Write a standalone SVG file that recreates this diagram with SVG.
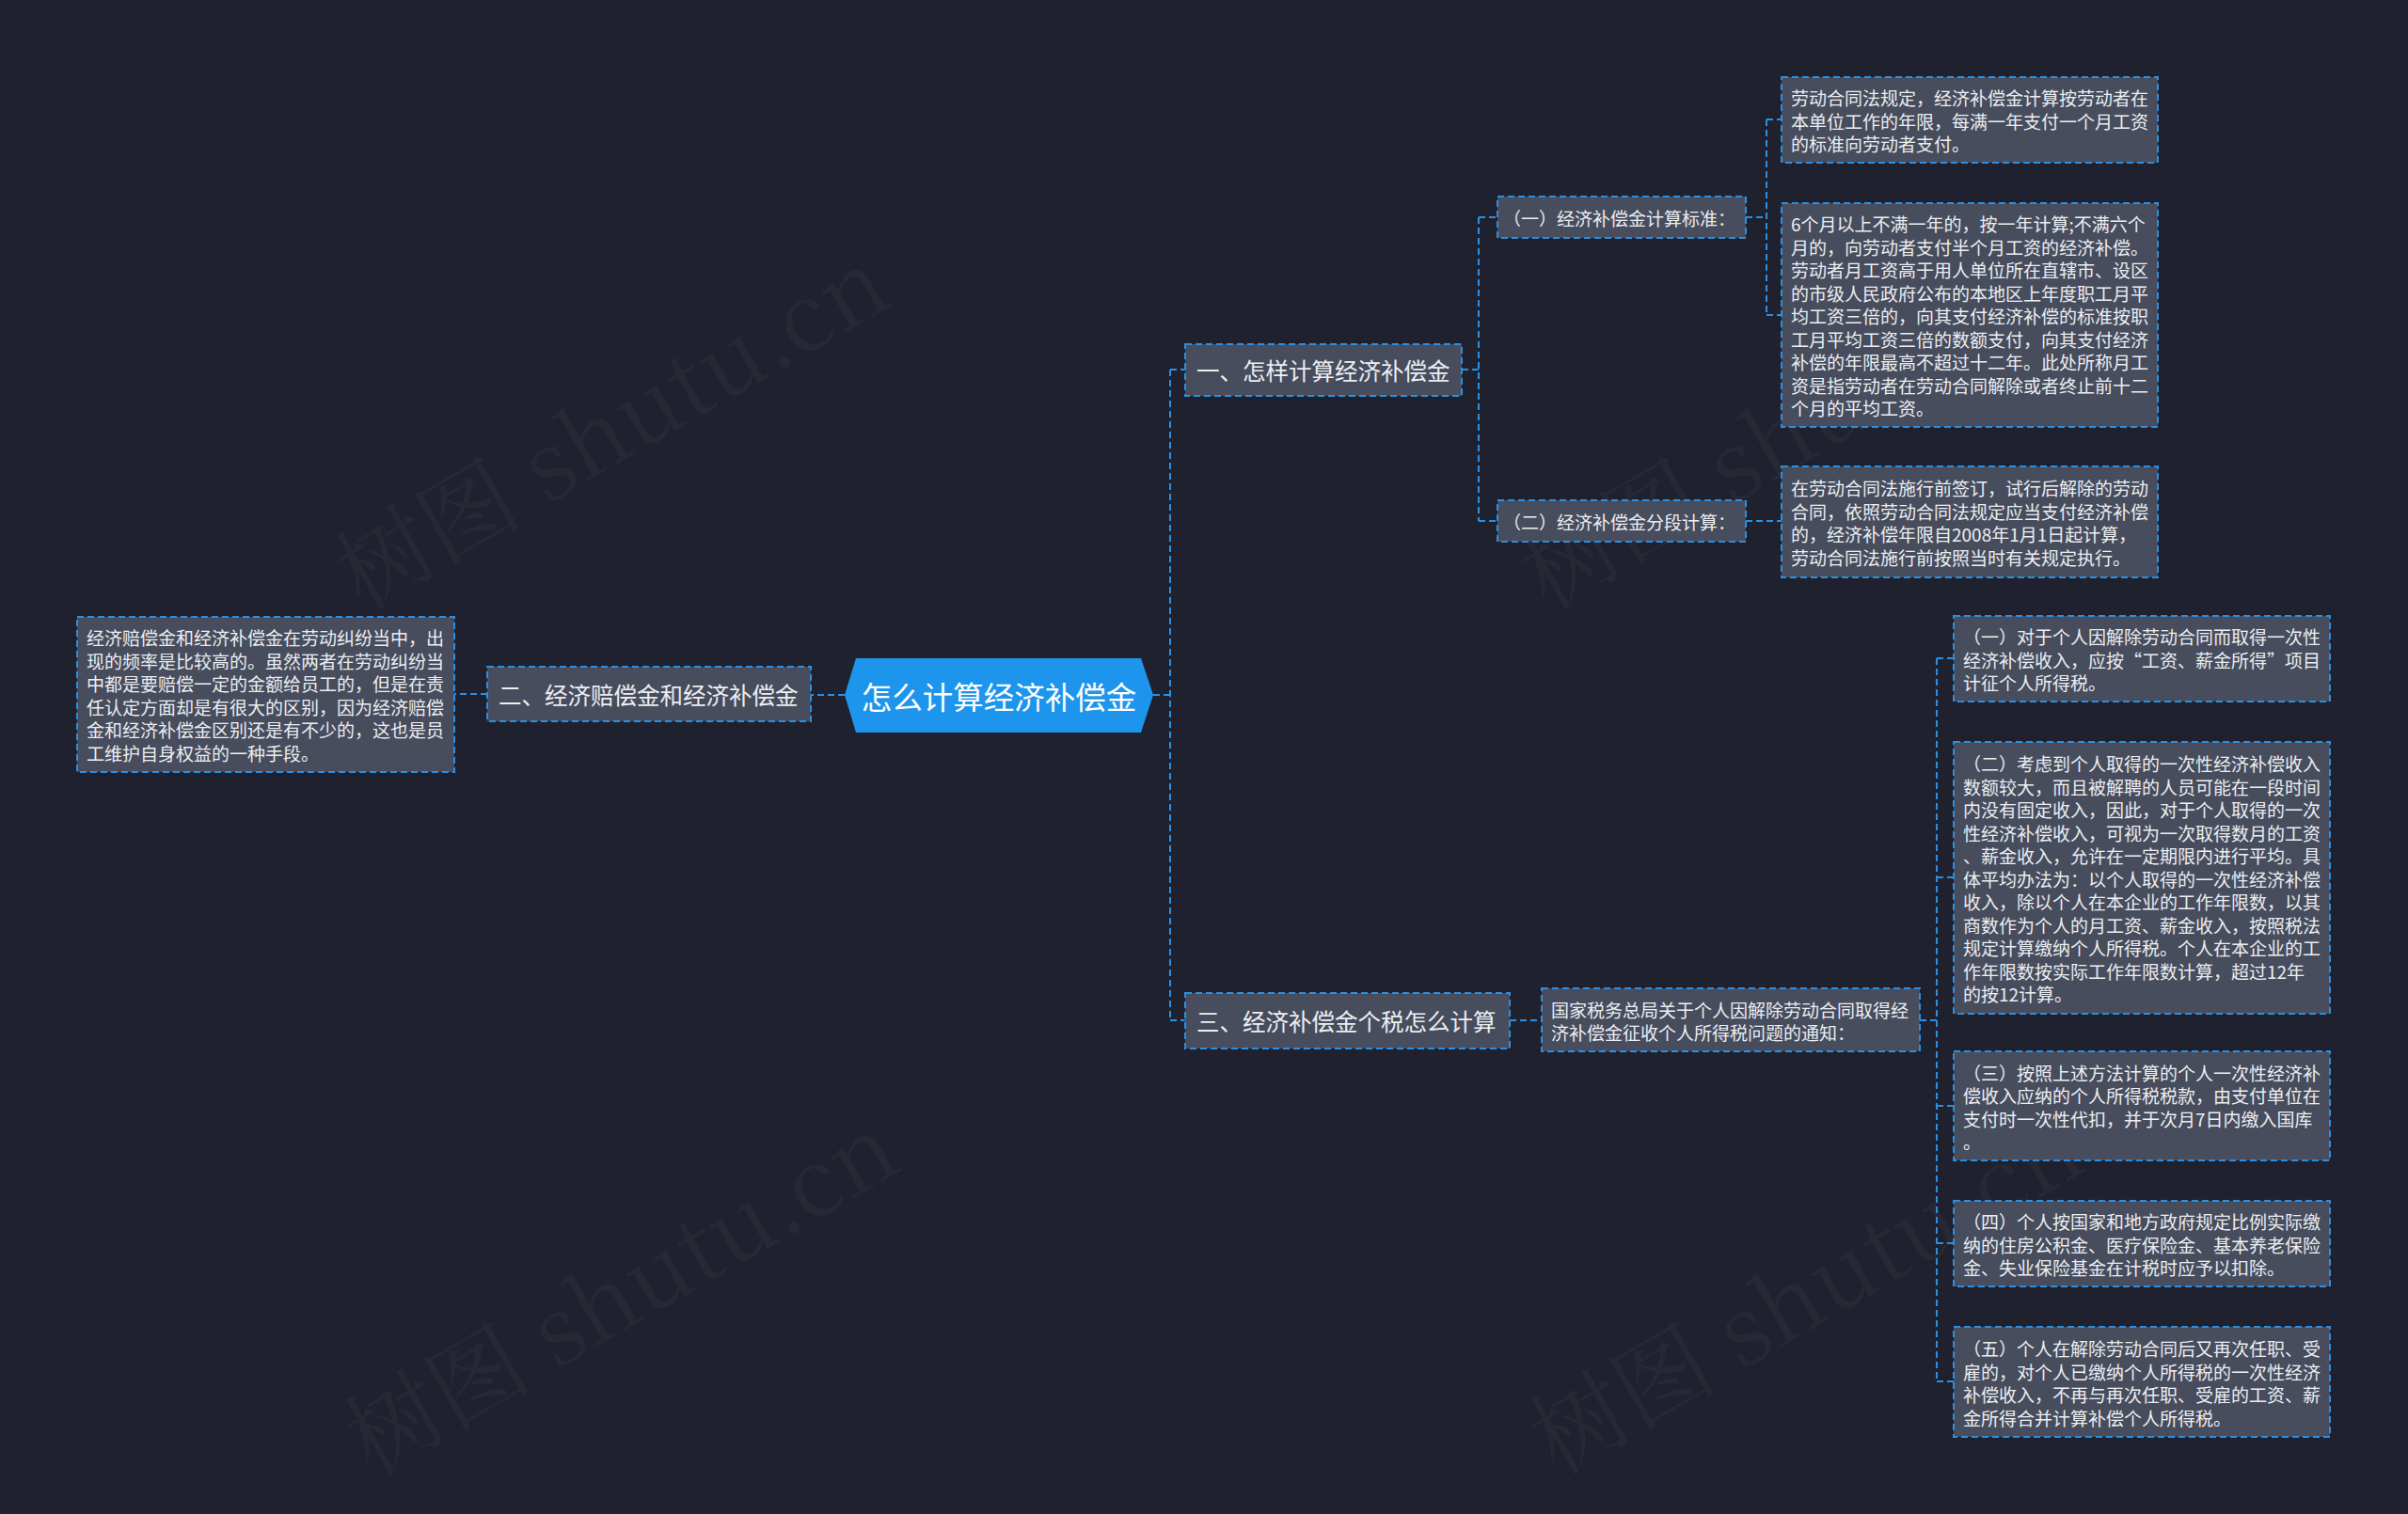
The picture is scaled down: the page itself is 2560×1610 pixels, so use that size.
<svg xmlns="http://www.w3.org/2000/svg" width="2560" height="1610" viewBox="0 0 2560 1610">
<style>
.bg{fill:#1f222e}
.box{fill:#474d5d;stroke:#2a8fe3;stroke-width:2;stroke-dasharray:7,4}
.t{font-family:"Noto Sans CJK SC","Noto Sans",sans-serif;fill:#eceef2;dominant-baseline:central}
.s{font-size:19px}
.b{font-size:24.5px}
.r{font-size:32.5px;fill:#ffffff}
.conn path{fill:none;stroke:#2a8fe3;stroke-width:2;stroke-dasharray:7,4}
.wm{font-family:"Noto Serif CJK SC","Liberation Serif",serif;font-size:100px;fill:#ffffff;fill-opacity:0.03}
</style>
<rect class="bg" x="0" y="0" width="2560" height="1610"/>
<g id="watermarks">
<text class="wm" transform="translate(385,650) rotate(-30)">树图 shutu.cn</text>
<text class="wm" transform="translate(1645,650) rotate(-30)">树图 shutu.cn</text>
<text class="wm" transform="translate(395,1570) rotate(-30)">树图 shutu.cn</text>
<text class="wm" transform="translate(1655,1570) rotate(-30)">树图 shutu.cn</text>
</g>
<g id="connectors" class="conn">
<path d="M898,739 H862"/>
<path d="M518,738 H483"/>
<path d="M1226,739 H1244"/>
<path d="M1244,393 V1085"/>
<path d="M1244,393 H1260"/>
<path d="M1244,1085 H1260"/>
<path d="M1554,393 H1572"/>
<path d="M1572,231 V554"/>
<path d="M1572,231 H1592"/>
<path d="M1572,554 H1592"/>
<path d="M1856,231 H1878"/>
<path d="M1878,127 V335"/>
<path d="M1878,127 H1894"/>
<path d="M1878,335 H1894"/>
<path d="M1856,554 H1894"/>
<path d="M1605,1085 H1639"/>
<path d="M2041,1085 H2059"/>
<path d="M2059,700 V1469"/>
<path d="M2059,700 H2077"/>
<path d="M2059,933 H2077"/>
<path d="M2059,1176 H2077"/>
<path d="M2059,1322 H2077"/>
<path d="M2059,1469 H2077"/>
</g>
<g id="root">
<polygon points="898,739 910,700 1213,700 1226,739 1213,779 910,779" fill="#1e95ec"/>
<text class="t r" x="1062" y="739" text-anchor="middle">怎么计算经济补偿金</text>
</g>
<g id="n-left">
<rect class="box" x="518" y="709" width="344" height="58"/>
<text class="t b" x="530" y="738">二、经济赔偿金和经济补偿金</text>
</g>
<g id="n-left-leaf">
<rect class="box" x="82" y="656" width="401" height="165"/>
<text class="t s" x="92"><tspan x="92" y="677">经济赔偿金和经济补偿金在劳动纠纷当中，出</tspan><tspan x="92" y="702">现的频率是比较高的。虽然两者在劳动纠纷当</tspan><tspan x="92" y="726">中都是要赔偿一定的金额给员工的，但是在责</tspan><tspan x="92" y="751">任认定方面却是有很大的区别，因为经济赔偿</tspan><tspan x="92" y="775">金和经济补偿金区别还是有不少的，这也是员</tspan><tspan x="92" y="800">工维护自身权益的一种手段。</tspan></text>
</g>
<g id="n1">
<rect class="box" x="1260" y="366" width="294" height="55"/>
<text class="t b" x="1272" y="393">一、怎样计算经济补偿金</text>
</g>
<g id="n1-1">
<rect class="box" x="1592" y="209" width="264" height="44"/>
<text class="t s" x="1598" y="231">（一）经济补偿金计算标准：</text>
</g>
<g id="n1-2">
<rect class="box" x="1592" y="532" width="264" height="44"/>
<text class="t s" x="1598" y="554">（二）经济补偿金分段计算：</text>
</g>
<g id="n1-1-a">
<rect class="box" x="1894" y="82" width="400" height="91"/>
<text class="t s"><tspan x="1904" y="103">劳动合同法规定，经济补偿金计算按劳动者在</tspan><tspan x="1904" y="127.5">本单位工作的年限，每满一年支付一个月工资</tspan><tspan x="1904" y="152">的标准向劳动者支付。</tspan></text>
</g>
<g id="n1-1-b">
<rect class="box" x="1894" y="216" width="400" height="238"/>
<text class="t s"><tspan x="1904" y="237">6个月以上不满一年的，按一年计算;不满六个</tspan><tspan x="1904" y="261.5">月的，向劳动者支付半个月工资的经济补偿。</tspan><tspan x="1904" y="286">劳动者月工资高于用人单位所在直辖市、设区</tspan><tspan x="1904" y="310.5">的市级人民政府公布的本地区上年度职工月平</tspan><tspan x="1904" y="335">均工资三倍的，向其支付经济补偿的标准按职</tspan><tspan x="1904" y="359.5">工月平均工资三倍的数额支付，向其支付经济</tspan><tspan x="1904" y="384">补偿的年限最高不超过十二年。此处所称月工</tspan><tspan x="1904" y="408.5">资是指劳动者在劳动合同解除或者终止前十二</tspan><tspan x="1904" y="433">个月的平均工资。</tspan></text>
</g>
<g id="n1-2-a">
<rect class="box" x="1894" y="496" width="400" height="118"/>
<text class="t s"><tspan x="1904" y="518">在劳动合同法施行前签订，试行后解除的劳动</tspan><tspan x="1904" y="542.5">合同，依照劳动合同法规定应当支付经济补偿</tspan><tspan x="1904" y="567">的，经济补偿年限自2008年1月1日起计算，</tspan><tspan x="1904" y="591.5">劳动合同法施行前按照当时有关规定执行。</tspan></text>
</g>
<g id="n3">
<rect class="box" x="1260" y="1056" width="345" height="59"/>
<text class="t b" x="1272" y="1085">三、经济补偿金个税怎么计算</text>
</g>
<g id="n3-1">
<rect class="box" x="1639" y="1051" width="402" height="67"/>
<text class="t s"><tspan x="1649" y="1072.5">国家税务总局关于个人因解除劳动合同取得经</tspan><tspan x="1649" y="1097">济补偿金征收个人所得税问题的通知：</tspan></text>
</g>
<g id="t1">
<rect class="box" x="2077" y="655" width="400" height="91"/>
<text class="t s"><tspan x="2087" y="676">（一）对于个人因解除劳动合同而取得一次性</tspan><tspan x="2087" y="700.5">经济补偿收入，应按“工资、薪金所得”项目</tspan><tspan x="2087" y="725">计征个人所得税。</tspan></text>
</g>
<g id="t2">
<rect class="box" x="2077" y="789" width="400" height="289"/>
<text class="t s"><tspan x="2087" y="811">（二）考虑到个人取得的一次性经济补偿收入</tspan><tspan x="2087" y="835.5">数额较大，而且被解聘的人员可能在一段时间</tspan><tspan x="2087" y="860">内没有固定收入，因此，对于个人取得的一次</tspan><tspan x="2087" y="884.5">性经济补偿收入，可视为一次取得数月的工资</tspan><tspan x="2087" y="909">、薪金收入，允许在一定期限内进行平均。具</tspan><tspan x="2087" y="933.5">体平均办法为：以个人取得的一次性经济补偿</tspan><tspan x="2087" y="958">收入，除以个人在本企业的工作年限数，以其</tspan><tspan x="2087" y="982.5">商数作为个人的月工资、薪金收入，按照税法</tspan><tspan x="2087" y="1007">规定计算缴纳个人所得税。个人在本企业的工</tspan><tspan x="2087" y="1031.5">作年限数按实际工作年限数计算，超过12年</tspan><tspan x="2087" y="1056">的按12计算。</tspan></text>
</g>
<g id="t3">
<rect class="box" x="2077" y="1118" width="400" height="116"/>
<text class="t s"><tspan x="2087" y="1139.5">（三）按照上述方法计算的个人一次性经济补</tspan><tspan x="2087" y="1164">偿收入应纳的个人所得税税款，由支付单位在</tspan><tspan x="2087" y="1188.5">支付时一次性代扣，并于次月7日内缴入国库</tspan><tspan x="2087" y="1213">。</tspan></text>
</g>
<g id="t4">
<rect class="box" x="2077" y="1277" width="400" height="91"/>
<text class="t s"><tspan x="2087" y="1298">（四）个人按国家和地方政府规定比例实际缴</tspan><tspan x="2087" y="1322.5">纳的住房公积金、医疗保险金、基本养老保险</tspan><tspan x="2087" y="1347">金、失业保险基金在计税时应予以扣除。</tspan></text>
</g>
<g id="t5">
<rect class="box" x="2077" y="1411" width="400" height="117"/>
<text class="t s"><tspan x="2087" y="1433">（五）个人在解除劳动合同后又再次任职、受</tspan><tspan x="2087" y="1457.5">雇的，对个人已缴纳个人所得税的一次性经济</tspan><tspan x="2087" y="1482">补偿收入，不再与再次任职、受雇的工资、薪</tspan><tspan x="2087" y="1506.5">金所得合并计算补偿个人所得税。</tspan></text>
</g>
</svg>
